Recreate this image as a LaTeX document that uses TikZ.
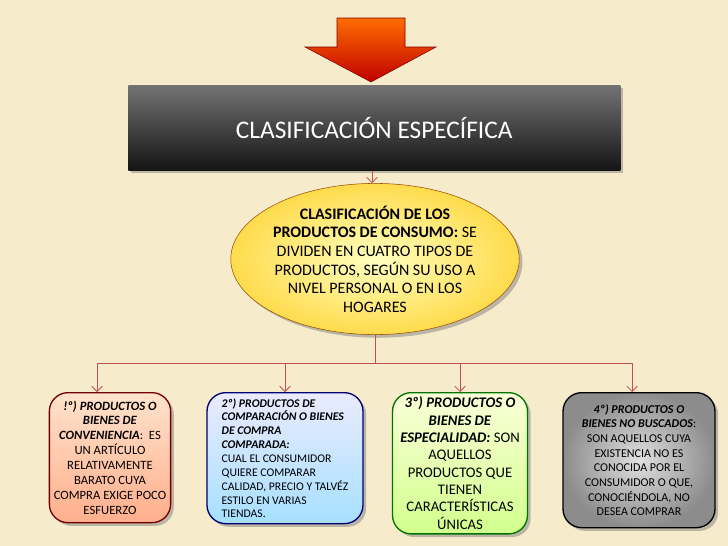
\documentclass[tikz,border=0pt]{standalone}
\usepackage{fontspec}
\setmainfont{Carlito}
\usetikzlibrary{shapes.geometric,arrows.meta,shadows}
\definecolor{bgbeige}{HTML}{F6EBCB}
\definecolor{linkred}{HTML}{C0504D}
\tikzset{
  box/.style={rounded corners=14pt, draw=#1!45!black, line width=1pt, drop shadow, align=center, anchor=north, font=\fontsize{9.5}{11.2}\selectfont},
  link/.style={draw=linkred, line width=0.6pt, -{Straight Barb[length=4pt]}},
}
\begin{document}
\begin{tikzpicture}[x=0.75pt,y=-0.75pt]
    \fill[bgbeige] (0,0) rectangle (728,546);
    \useasboundingbox (0,0) rectangle (728,546);
    % top arrow
    \draw[draw=red!50!black, top color=orange!85!red, bottom color=red!75!black]
      (337,18) -- (405,18) -- (405,47) -- (436,47) -- (371,82) -- (305,47) -- (337,47) -- cycle;
    % banner
    \node[minimum width=492*0.75pt, minimum height=85*0.75pt, top color=black!55, bottom color=black!92,
          drop shadow, text=white, font=\fontsize{19}{22}\selectfont, anchor=north west] (title) at (128,85) {CLASIFICACIÓN ESPECÍFICA};
    % ellipse
    \node[ellipse, minimum width=240*0.75pt, minimum height=142*0.75pt, inner sep=0pt, draw=orange!60!black,
          inner color=yellow!25, outer color=yellow!60!orange!70, drop shadow, align=center,
          font=\fontsize{12}{14}\selectfont] (consumo) at (375,259)
          {\textbf{CLASIFICACIÓN DE LOS}\\ \textbf{PRODUCTOS DE CONSUMO:} SE\\ DIVIDEN EN CUATRO TIPOS DE\\ PRODUCTOS, SEGÚN SU USO A\\ NIVEL PERSONAL O EN LOS\\ HOGARES};
    \draw[link] (title.south -| 372,0) -- (consumo.north -| 372,0);
    % boxes
    \node[box=red, top color=red!12!orange!20, bottom color=red!40!orange!45, minimum width=115*0.75pt, minimum height=130*0.75pt] (conv) at (110,392)
      {\textbf{\textit{!º) PRODUCTOS O}}\\ \textbf{\textit{BIENES DE}}\\ \textbf{\textit{CONVENIENCIA}}:~ ES\\ UN ARTÍCULO\\ RELATIVAMENTE\\ BARATO CUYA\\ COMPRA EXIGE POCO\\ ESFUERZO};
    \node[box=blue, top color=blue!8, bottom color=blue!35!cyan!35, minimum width=156*0.75pt, minimum height=131*0.75pt, align=left, font=\fontsize{8.8}{10.4}\selectfont] (compar) at (285,392)
      {\textbf{\textit{2º) PRODUCTOS DE}}\\ \textbf{\textit{COMPARACIÓN O BIENES}}\\ \textbf{\textit{DE COMPRA}}\\ \textbf{\textit{COMPARADA:}}\\ CUAL EL CONSUMIDOR\\ QUIERE COMPARAR\\ CALIDAD, PRECIO Y TALVÉZ\\ ESTILO EN VARIAS\\ TIENDAS.};
    \node[box=green, top color=green!10!yellow!15, bottom color=green!40!yellow!45, minimum width=135*0.75pt, minimum height=136*0.75pt, font=\fontsize{11}{13}\selectfont] (espec) at (460,392)
      {\textbf{\textit{3º) PRODUCTOS O}}\\ \textbf{\textit{BIENES DE}}\\ \textbf{\textit{ESPECIALIDAD:}} SON\\ AQUELLOS\\ PRODUCTOS QUE\\ TIENEN\\ CARACTERÍSTICAS\\ ÚNICAS};
    \node[box=black, inner color=black!12, outer color=black!45, minimum width=152*0.75pt, minimum height=135*0.75pt, font=\fontsize{9}{11}\selectfont] (buscad) at (639,392)
      {\textbf{\textit{4º) PRODUCTOS O}}\\ \textbf{\textit{BIENES NO BUSCADOS}}:\\ SON AQUELLOS CUYA\\ EXISTENCIA NO ES\\ CONOCIDA POR EL\\ CONSUMIDOR O QUE,\\ CONOCIÉNDOLA, NO\\ DESEA COMPRAR};
    % connectors
    \coordinate (split) at (375,363);
    \draw[draw=linkred, line width=0.6pt] (consumo.south) -- (split);
    \draw[draw=linkred, line width=0.6pt] (97,363) -- (632,363);
    \draw[link] (97,363) -- (conv.north -| 97,0);
    \draw[link] (285,363) -- (compar.north);
    \draw[link] (460,363) -- (espec.north);
    \draw[link] (632,363) -- (buscad.north -| 632,0);
\end{tikzpicture}
\end{document}
